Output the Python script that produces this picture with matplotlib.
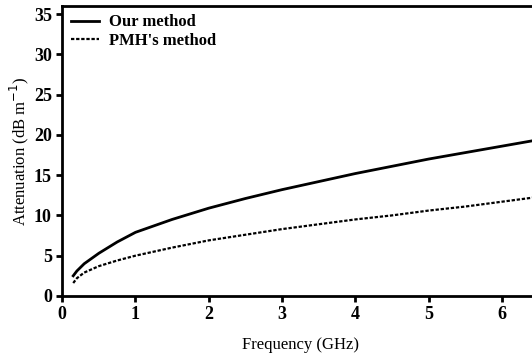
import matplotlib.pyplot as plt

freq = [0.15, 0.2, 0.3, 0.5, 0.75, 1, 1.5, 2, 2.5, 3, 3.5, 4, 4.5, 5, 5.5, 6, 6.5]
ours = [2.5, 3.1, 4.0, 5.3, 6.7, 7.9, 9.5, 10.9, 12.1, 13.2, 14.2, 15.2, 16.1, 17.0, 17.8, 18.6, 19.4]
pmh = [1.6, 2.2, 2.9, 3.7, 4.4, 5.0, 6.0, 6.9, 7.6, 8.3, 8.9, 9.5, 10.0, 10.6, 11.1, 11.7, 12.3]

plt.rcParams['font.family'] = 'Liberation Serif'

fig = plt.figure(figsize=(5.32, 3.6), dpi=100)
ax = fig.add_axes([0.117, 0.178, 0.895, 0.805])

ax.plot(freq, ours, color='black', lw=2, label='Our method')
ax.plot(freq, pmh, color='black', lw=1.6, linestyle=(0, (1.5, 0.8)), label="PMH's method")

ax.set_xlim(0, 6.5)
ax.set_ylim(0, 36)
ax.set_xticks(range(0, 7))
ax.set_yticks(range(0, 36, 5))
for s in ax.spines.values():
    s.set_linewidth(2)
ax.tick_params(width=2, length=4, direction='out', labelsize=13)
for lbl in ax.get_xticklabels() + ax.get_yticklabels():
    lbl.set_fontweight('bold')

ax.set_xlabel('Frequency (GHz)', fontsize=12, labelpad=10)
ax.set_ylabel(r'Attenuation (dB m$^{-1}$)', fontsize=12, labelpad=2)

leg = ax.legend(loc='upper left', frameon=False, handlelength=1.7,
                borderaxespad=0.1, labelspacing=0.15, handletextpad=0.6,
                prop={'weight': 'bold', 'size': 12})

fig.savefig('out.png', dpi=100)
